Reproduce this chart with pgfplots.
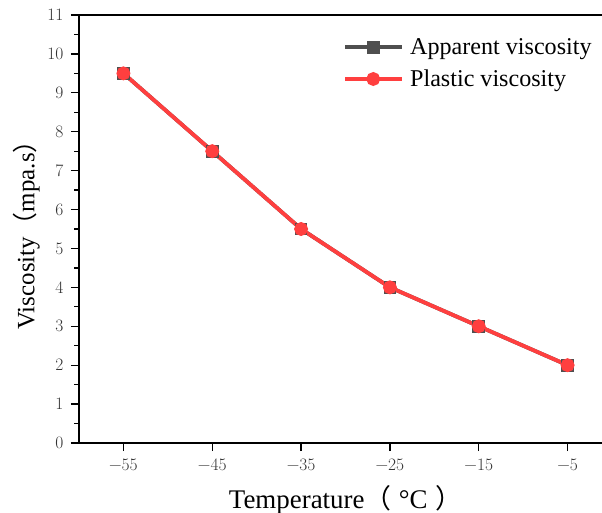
\documentclass[border=0pt]{standalone}
\usepackage{fontspec}
\setmainfont{Liberation Serif}
\newfontfamily\cjk{Noto Sans CJK SC}
\newfontfamily\lmr{Latin Modern Roman}
\usepackage{pgfplots}
\pgfplotsset{compat=1.18}
\definecolor{appgray}{HTML}{4F4F4F}
\definecolor{plred}{HTML}{FF3F3F}
\begin{document}
\begin{tikzpicture}
\useasboundingbox (-79bp,-70bp) rectangle (523bp,443bp);
\clip (-79bp,-70bp) rectangle (523bp,443bp);
\begin{axis}[
  at={(0,0)}, anchor=south west,
  scale only axis, width=533bp, height=428bp,
  xmin=-60, xmax=0, ymin=0, ymax=11,
  xtick={-55,-45,-35,-25,-15,-5},
  xticklabels={−55,−45,−35,−25,−15,−5},
  ytick={0,1,...,11},
  minor y tick num=1,
  xtick pos=bottom, ytick pos=left,
  tick align=outside,
  major tick length=8bp, minor tick length=4.5bp,
  every tick/.style={black, line width=1.2bp},
  axis line style={line width=1.5bp},
  /pgf/number format/assume math mode=true,
  tick label style={font=\lmr\fontsize{17.5}{20}\selectfont, text=black!80},
  xticklabel style={yshift=-4bp},
  yticklabel style={xshift=-4bp},
  xlabel={Temperature{\cjk（}\hspace{0.28em}°C\hspace{0.28em}{\cjk）}},
  ylabel={Viscosity{\cjk（}mpa.s{\cjk）}},
  xlabel style={font=\fontsize{27}{30}\selectfont, yshift=-8bp},
  ylabel style={font=\fontsize{25}{28}\selectfont, yshift=1bp},
  legend style={draw=none, fill=none, at={(0.49,0.955)}, anchor=north west,
    font=\fontsize{24.2}{27}\selectfont, row sep=10bp,
    legend cell align=left,
    nodes={inner xsep=6bp}},
  legend image code/.code={%
    \draw[mark repeat=2, mark phase=2] plot coordinates {(0bp,0bp) (28bp,0bp) (57bp,0bp)};},
]
\addplot[appgray, line width=3.8bp, mark=square*, mark size=4.5bp, mark options={solid}]
  coordinates {(-55,9.5) (-45,7.5) (-35,5.5) (-25,4) (-15,3) (-5,2)};
\addlegendentry{Apparent viscosity}
\addplot[plred, line width=3.8bp, mark=*, mark size=5bp, mark options={solid}]
  coordinates {(-55,9.5) (-45,7.5) (-35,5.5) (-25,4) (-15,3) (-5,2)};
\addlegendentry{Plastic viscosity}
\end{axis}
\end{tikzpicture}
\end{document}
